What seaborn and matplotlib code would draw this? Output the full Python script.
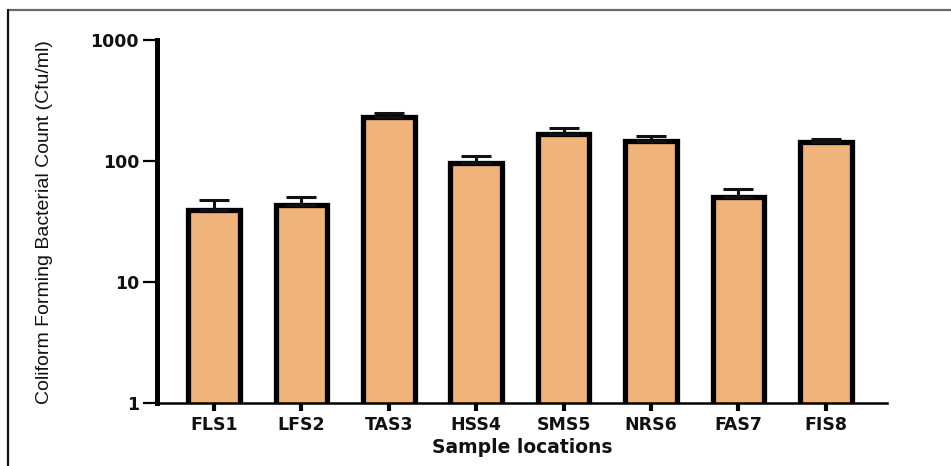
import matplotlib
matplotlib.use("Agg")
import matplotlib.pyplot as plt
from matplotlib.lines import Line2D
from matplotlib.ticker import FixedLocator, NullLocator, FixedFormatter
import seaborn as sns
import pandas as pd
import numpy as np

# Sample sites and their mean coliform counts (Cfu/ml) with upper error
sites = ["FLS1", "LFS2", "TAS3", "HSS4", "SMS5", "NRS6", "FAS7", "FIS8"]
counts = [39, 43, 231, 97, 168, 146, 50, 144]
errors = [9, 7, 20, 13, 20, 14, 9, 8]
y_ticks = [1, 10, 100, 1000]
y_tick_labels = ["1", "10", "100", "1000"]

df = pd.DataFrame({"site": sites, "count": counts})

sns.set_style("white")
plt.rcParams["font.family"] = ["DejaVu Sans"]

fig = plt.figure(figsize=(9.51, 4.66), dpi=100)
ax = fig.add_axes([157 / 951, 63 / 466, 730 / 951, 363 / 466])
ax.set_yscale("log")

sns.barplot(data=df, x="site", y="count", color="#F0B47B", saturation=1,
            edgecolor="black", linewidth=3.8, width=0.59, errorbar=None, ax=ax)
for patch in ax.patches:
    patch.set_joinstyle("miter")

xpos = np.arange(len(sites))
ax.errorbar(xpos, counts, yerr=[np.zeros(len(errors)), errors], fmt="none",
            ecolor="#111111", elinewidth=2.2, capsize=10.5, capthick=2.2, zorder=1)

ax.set_ylim(1, 1000)
ax.set_xlim(-0.652, 7.70)
ax.yaxis.set_major_locator(FixedLocator(y_ticks))
ax.yaxis.set_major_formatter(FixedFormatter(y_tick_labels))
ax.yaxis.set_minor_locator(NullLocator())

for side in ("top", "right"):
    ax.spines[side].set_visible(False)
ax.spines["left"].set_linewidth(3.6)
ax.spines["bottom"].set_linewidth(1.8)
ax.spines["left"].set_color("black")
ax.spines["bottom"].set_color("black")

ax.tick_params(axis="y", which="major", length=10, width=1.6, color="black",
               direction="out", pad=3, left=True)
ax.tick_params(axis="x", which="major", length=5.5, width=3, color="black",
               direction="out", pad=4, bottom=True)
for lab in ax.get_yticklabels() + ax.get_xticklabels():
    lab.set_fontweight("bold")
    lab.set_fontsize(12.5)
    lab.set_color("#111111")

ax.set_xlabel("Sample locations", fontsize=13.5, fontweight="bold", color="#111111",
              labelpad=3)
ax.set_ylabel("")
fig.text(45 / 951, 1 - 222 / 466, "Coliform Forming Bacterial Count (Cfu/ml)",
         rotation=90, ha="center", va="center", fontsize=14,
         family=["Liberation Sans Narrow", "Liberation Sans", "DejaVu Sans"],
         color="#111111")

# Outer frame lines along the top and left edges of the figure
fig.add_artist(Line2D([8 / 951, 1.0], [1 - 10 / 466, 1 - 10 / 466],
                      transform=fig.transFigure, color="#6a6a6a", linewidth=1.6))
fig.add_artist(Line2D([8 / 951, 8 / 951], [0.0, 1 - 10 / 466],
                      transform=fig.transFigure, color="#111111", linewidth=1.6))

fig.savefig("out.png", dpi=100)
